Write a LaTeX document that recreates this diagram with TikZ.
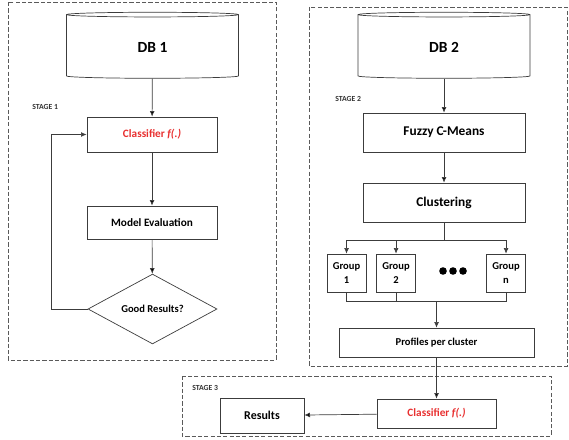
\documentclass[tikz,border=0pt]{standalone}
\usepackage{fontspec}
\setmainfont{Carlito}
\usepackage{tikz}
\usetikzlibrary{shapes.geometric,arrows.meta}
\definecolor{clsred}{RGB}{232,48,48}
\definecolor{linegray}{RGB}{60,60,60}
\definecolor{framegray}{RGB}{90,90,90}

\begin{document}
\begin{tikzpicture}[x=0.025cm, y=-0.025cm,
  box/.style={shape=rectangle, draw=linegray, line width=0.5pt, font=\bfseries\fontsize{8}{9}\selectfont},
  db/.style={shape=cylinder, shape border rotate=90, aspect=0.12, draw=linegray, line width=0.5pt, minimum width=4.3cm, minimum height=1.65cm, font=\bfseries\fontsize{11}{12}\selectfont},
  frame/.style={draw=framegray, dashed, dash pattern=on 3pt off 1.5pt, line width=0.5pt},
  stagelbl/.style={anchor=west, inner sep=0pt, font=\bfseries\fontsize{5.5}{6}\selectfont, text=black!80},
  arr/.style={-{Latex[length=4pt,width=3.5pt]}, draw=linegray, line width=0.5pt}]

\useasboundingbox (0,0) rectangle (569,439);

\draw[frame] (8,2) rectangle (276,360);
\draw[frame] (309,7) rectangle (567,366);
\draw[frame] (182,376) rectangle (551,436);

\node[stagelbl](s1) at (32,107) {STAGE 1};
\node[stagelbl](s2) at (335,99) {STAGE 2};
\node[stagelbl](s3) at (192,388) {STAGE 3};

\node[db](db1) at (152.5,47) {DB 1};
\node[box, minimum width=3.25cm, minimum height=0.875cm, text=clsred](cls1) at (152,134.5) {Classifier \textit{f(.)}};
\node[box, minimum width=3.25cm, minimum height=0.825cm](eval) at (152,222.5) {Model Evaluation};
\node[shape=diamond, draw=linegray, line width=0.5pt, inner sep=0pt, minimum width=3.225cm, minimum height=1.7cm, font=\bfseries\fontsize{7.5}{9}\selectfont](good) at (152.5,309) {Good Results?};

\path[arr] (db1) edge (cls1);
\path[arr] (cls1) edge (eval);
\path[arr] (eval) edge (good);
\draw[arr] (good.west) -- (51,309) |- (cls1.west);

\node[db](db2) at (444,47) {DB 2};
\node[box, minimum width=4.05cm, minimum height=0.975cm, font=\bfseries\fontsize{9.5}{11}\selectfont](fcm) at (444,132.5) {Fuzzy C-Means};
\node[box, minimum width=4.05cm, minimum height=0.975cm, font=\bfseries\fontsize{9.5}{11}\selectfont](clus) at (444,202.5) {Clustering};

\node[box, minimum width=0.975cm, minimum height=0.95cm, inner sep=1pt, align=center, font=\bfseries\fontsize{7.5}{10}\selectfont](g1) at (346.5,273) {Group\\1};
\node[box, minimum width=0.975cm, minimum height=0.95cm, inner sep=1pt, align=center, font=\bfseries\fontsize{7.5}{10}\selectfont](g2) at (396,273) {Group\\2};
\node[box, minimum width=0.975cm, minimum height=0.95cm, inner sep=1pt, align=center, font=\bfseries\fontsize{7.5}{10}\selectfont](gn) at (506,273) {Group\\n};
\foreach \i in {0,1,2}
  \node[shape=circle, fill=black, inner sep=0pt, minimum size=0.19cm](dot\i) at (443+10*\i,271) {};

\node[box, minimum width=4.875cm, minimum height=0.725cm, font=\bfseries\fontsize{7.5}{9}\selectfont](prof) at (436.5,342.5) {Profiles per cluster};

\coordinate (split) at (444,240);
\coordinate (join) at (436.5,301);

\path[arr] (db2) edge (fcm);
\path[arr] (fcm) edge (clus);
\draw[draw=linegray, line width=0.5pt] (clus) -- (split);
\draw[arr] (split) -| (g1.north);
\draw[arr] (split) -| (g2.north);
\draw[arr] (split) -| (gn.north);
\draw[draw=linegray, line width=0.5pt] (g1.south) |- (join);
\draw[draw=linegray, line width=0.5pt] (g2.south) |- (join);
\draw[draw=linegray, line width=0.5pt] (gn.south) |- (join);
\draw[arr] (join) -- (prof.north);

\node[box, minimum width=2.975cm, minimum height=0.725cm, text=clsred](cls2) at (436.5,413.5) {Classifier \textit{f(.)}};
\node[box, minimum width=2.1cm, minimum height=0.875cm, font=\bfseries\fontsize{8.5}{10}\selectfont](res) at (262,415.5) {Results};

\path[arr] (prof) edge (cls2);
\path[arr] (cls2) edge (res);
\end{tikzpicture}
\end{document}
